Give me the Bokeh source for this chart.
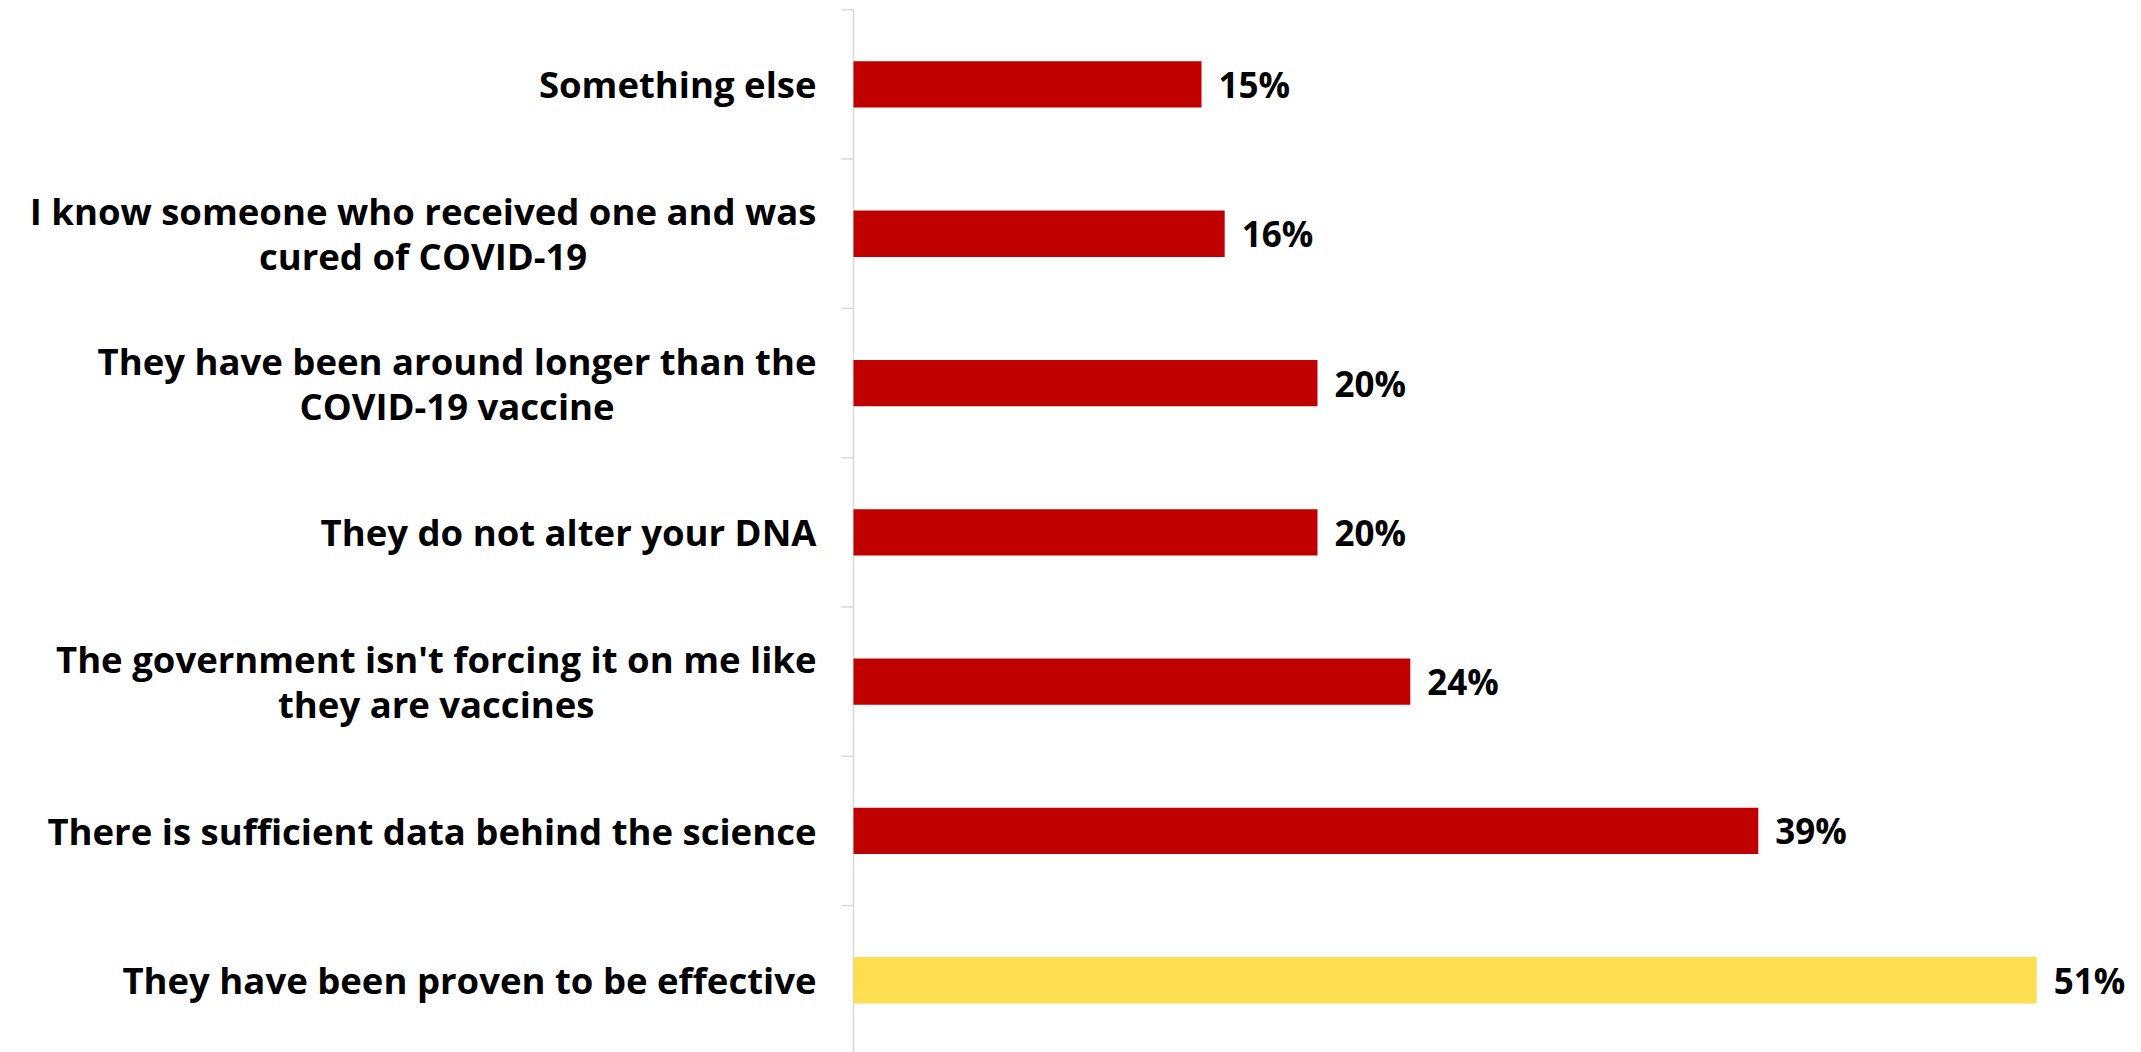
from bokeh.plotting import figure
from bokeh.models import Range1d, ColumnDataSource
from bokeh.core.properties import value
from bokeh.embed import file_html
from bokeh.resources import INLINE

categories = [
    "Something else",
    "I know someone who received one and was\ncured of COVID-19",
    "They have been around longer than the\nCOVID-19 vaccine",
    "They do not alter your DNA",
    "The government isn't forcing it on me like\nthey are vaccines",
    "There is sufficient data behind the science",
    "They have been proven to be effective",
]
values = [15, 16, 20, 20, 24, 39, 51]
highlight = [False, False, False, False, False, False, True]

RED = "#C00000"
GOLD = "#FFDE52"
AXIS = "#D9D9D9"
FONT = "Open Sans"

n = len(categories)
ypos = [n - i - 0.5 for i in range(n)]
colors = [GOLD if h else RED for h in highlight]
val_text = [f"{v}%" for v in values]

W, H = 2141, 1052
axis_px = 853          # screen x of the value axis
top_px = 9.3           # screen y of the top category boundary
px_per_unit = 23.2
px_per_cat = 149.3

p = figure(width=W, height=H, output_backend="svg", toolbar_location=None,
           x_axis_location=None, y_axis_location=None,
           min_border=0)
p.x_range = Range1d(-axis_px / px_per_unit, (W - axis_px) / px_per_unit)
y_end = n + top_px / px_per_cat
p.y_range = Range1d(y_end - H / px_per_cat, y_end)

p.outline_line_color = None
p.xgrid.visible = False
p.ygrid.visible = False
p.background_fill_color = "white"
p.border_fill_color = "white"

# category axis line and boundary ticks
tick_len = 12 / px_per_unit
p.segment(x0=[0], x1=[0], y0=[y_end - H / px_per_cat], y1=[n],
          line_color=AXIS, line_width=1.5)
bounds = list(range(1, n + 1))
p.segment(x0=[-tick_len] * len(bounds), x1=[0] * len(bounds), y0=bounds, y1=bounds,
          line_color=AXIS, line_width=1.5)

src = ColumnDataSource(dict(y=ypos, v=values, c=colors, t=val_text))
p.hbar(y="y", right="v", left=0, height=0.31, fill_color="c", line_color=None, source=src)

p.text(x="v", y="y", text="t", source=src, x_offset=17,
       text_align="left", text_baseline="middle",
       text_font=value(FONT), text_font_style="bold",
       text_font_size="35px", text_color="black")

cat_src = ColumnDataSource(dict(x=[0] * n, y=ypos, t=categories))
p.text(x="x", y="y", text="t", source=cat_src, x_offset=-37,
       anchor=value("center_right"), text_align="center", text_baseline="middle",
       text_font=value(FONT), text_font_style="bold",
       text_font_size="36.5px", text_color="black", text_line_height=0.9)

open("out.html", "w").write(file_html(p, INLINE))
